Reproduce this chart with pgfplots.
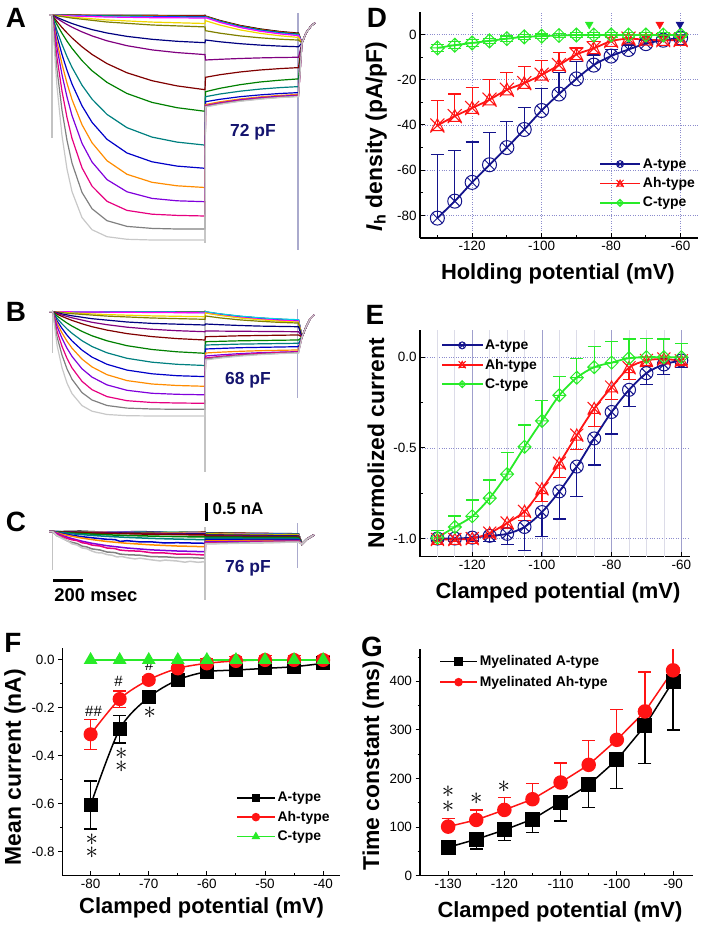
\documentclass[border=0pt]{standalone}
\usepackage{fontspec}
\setmainfont{Liberation Sans}
\usepackage{pgfplots}
\pgfplotsset{compat=1.18}
\usetikzlibrary{plotmarks}

\definecolor{navyc}{RGB}{20,20,140}
\definecolor{redc}{RGB}{255,20,20}
\definecolor{greenc}{RGB}{40,235,40}
\definecolor{gridc}{RGB}{140,140,205}
\definecolor{gridx}{RGB}{160,160,205}
\definecolor{lgridc}{RGB}{220,220,232}
\definecolor{txtnavy}{RGB}{20,20,110}
\definecolor{vline}{RGB}{170,170,205}
\definecolor{capc}{RGB}{195,195,195}
% trace colours
\definecolor{tblack}{RGB}{0,0,0}
\definecolor{tred}{RGB}{255,0,0}
\definecolor{tgreen}{RGB}{0,210,0}
\definecolor{tblue}{RGB}{0,0,255}
\definecolor{tcyan}{RGB}{0,210,230}
\definecolor{tmag}{RGB}{255,0,255}
\definecolor{tyel}{RGB}{240,215,0}
\definecolor{tolive}{RGB}{128,128,0}
\definecolor{tnavy}{RGB}{0,0,128}
\definecolor{tpurp}{RGB}{128,0,128}
\definecolor{twine}{RGB}{128,0,0}
\definecolor{tdgreen}{RGB}{0,128,0}
\definecolor{tdcyan}{RGB}{0,128,128}
\definecolor{troyal}{RGB}{0,0,200}
\definecolor{torange}{RGB}{255,140,0}
\definecolor{tviolet}{RGB}{128,0,220}
\definecolor{tpink}{RGB}{230,0,128}
\definecolor{tgray}{RGB}{128,128,128}
\definecolor{tlgray}{RGB}{200,200,200}

\pgfdeclareplotmark{xtri}{%
  \pgfpathmoveto{\pgfqpoint{-\pgfplotmarksize}{-\pgfplotmarksize}}%
  \pgfpathlineto{\pgfqpoint{\pgfplotmarksize}{\pgfplotmarksize}}%
  \pgfpathmoveto{\pgfqpoint{-\pgfplotmarksize}{\pgfplotmarksize}}%
  \pgfpathlineto{\pgfqpoint{\pgfplotmarksize}{-\pgfplotmarksize}}%
  \pgfpathmoveto{\pgfqpoint{0pt}{0.95\pgfplotmarksize}}%
  \pgfpathlineto{\pgfqpoint{0.9\pgfplotmarksize}{-0.75\pgfplotmarksize}}%
  \pgfpathlineto{\pgfqpoint{-0.9\pgfplotmarksize}{-0.75\pgfplotmarksize}}%
  \pgfpathclose
  \pgfusepathqstroke
}
\pgfdeclareplotmark{dplus}{%
  \pgfpathmoveto{\pgfqpoint{0pt}{\pgfplotmarksize}}%
  \pgfpathlineto{\pgfqpoint{\pgfplotmarksize}{0pt}}%
  \pgfpathlineto{\pgfqpoint{0pt}{-\pgfplotmarksize}}%
  \pgfpathlineto{\pgfqpoint{-\pgfplotmarksize}{0pt}}%
  \pgfpathclose
  \pgfpathmoveto{\pgfqpoint{0pt}{\pgfplotmarksize}}%
  \pgfpathlineto{\pgfqpoint{0pt}{-\pgfplotmarksize}}%
  \pgfpathmoveto{\pgfqpoint{-\pgfplotmarksize}{0pt}}%
  \pgfpathlineto{\pgfqpoint{\pgfplotmarksize}{0pt}}%
  \pgfusepathqstroke
}

\pgfplotsset{
  orig/.style={
    scale only axis, anchor=south west,
    axis x line*=bottom, axis y line*=left,
    axis line style={line width=1.2bp, black},
    tick style={black, line width=1bp},
    major tick length=4.5bp, minor tick length=2.5bp,
    tick label style={font=\fontsize{13.5}{14}\selectfont},
    /pgf/number format/assume math mode=true,
    xlabel style={font=\bfseries\fontsize{22}{24}\selectfont, anchor=center},
    ylabel style={font=\bfseries\fontsize{23}{25}\selectfont, anchor=center},
    legend cell align=left,
    legend style={draw=none, fill=none, font=\bfseries\fontsize{14}{15}\selectfont,
      row sep=4bp, nodes={inner sep=2bp}},
    legend image code/.code={\draw[mark repeat=2,mark phase=2] plot coordinates {(0bp,0bp) (20bp,0bp) (40bp,0bp)};},
    legend image post style={mark size=3.5bp},
    error bars/error bar style={line width=1.2bp},
    error bars/error mark options={rotate=90, mark size=6.5bp, line width=1.2bp},
  },
  tr/.style={no marks, line width=1.2bp},
  trc/.style={no marks, line width=1.5bp},
}

\begin{document}
\begin{tikzpicture}
%================ traces A, B, C (pixel coordinates) =================
\begin{axis}[at={(0bp,0bp)}, anchor=south west, scale only axis,
  width=703bp, height=927bp, xmin=0, xmax=703, ymin=0, ymax=927,
  y dir=reverse, hide axis, clip=false]
% ---- A
\addplot[capc, line width=1.5bp] coordinates {(52,14)(52,138)};
\addplot[capc, line width=1.5bp] coordinates {(205,14)(205,243)};
\addplot[vline, line width=1.5bp] coordinates {(298,13)(298,250)};
\addplot[tr,tblack] coordinates {(49,15)(52,15)(107,15.2)(205,15.5)(205.5,16)(220,20.5)(240,25.4)(260,28.9)(280,31.5)(297,33)(298.5,33)(302,43)(306,33)(311,26)(315,23)};
\addplot[tr,tred] coordinates {(49,15)(52,15)(72,15.2)(107,15.5)(152,15.8)(205,16)(205.5,16.3)(220,20.9)(240,25.8)(260,29.4)(280,31.9)(297,33.5)(298.5,33.5)(302,43)(306,33)(311,26)(315,23)};
\addplot[tr,tgreen] coordinates {(49,15)(52,15)(72,15.4)(107,15.8)(152,16.2)(205,16.5)(205.5,16.6)(220,21.2)(240,26.2)(260,29.8)(280,32.4)(297,34)(298.5,34)(302,43)(306,33)(311,26)(315,23)};
\addplot[tr,tblue] coordinates {(49,15)(52,15)(72,15.6)(107,16.2)(152,16.7)(205,17)(205.5,17)(220,21.7)(240,26.7)(260,30.3)(280,32.9)(297,34.5)(298.5,34.5)(302,43)(306,33)(311,26)(315,23)};
\addplot[tr,tcyan] coordinates {(49,15)(52,15)(72,15.8)(107,16.6)(152,17.1)(205,17.5)(205.5,17.3)(220,22.0)(240,27.1)(260,30.8)(280,33.4)(297,35)(298.5,35)(302,43)(306,33)(311,26)(315,23)};
\addplot[tr,tmag] coordinates {(49,15)(52,15)(72,16)(107,17)(152,17.7)(205,18)(205.5,17.6)(220,22.4)(240,27.5)(260,31.2)(280,33.9)(297,35.5)(298.5,35.5)(302,43)(306,33)(311,26)(315,23)};
\addplot[tr,tyel] coordinates {(49,15)(52,15)(72,17.2)(107,20.0)(152,22.1)(205,23.5)(205.5,20.7)(220,25.1)(240,29.9)(260,33.3)(280,35.8)(297,37.3)(298.5,37.3)(302,43)(306,33)(311,26)(315,23)};
\addplot[tr,tolive] coordinates {(49,15)(52,15)(72,18.1)(107,22.0)(152,25.0)(205,26.9)(205.5,30.7)(220,33.2)(240,35.9)(260,37.8)(280,39.2)(297,40)(298.5,40)(302,43)(306,33)(311,26)(315,23)};
\addplot[tr,tnavy] coordinates {(49,15)(52,15)(57,17.4)(62,19.6)(67,21.6)(72,23.5)(82,26.8)(92,29.6)(107,33.0)(127,36.4)(152,39.3)(177,41.3)(205,42.7)(205.5,40)(220,41.8)(240,43.7)(260,45.1)(280,46.1)(297,46.7)(298.5,46.7)(302,43)(306,33)(311,26)(315,23)};
\addplot[tr,tpurp] coordinates {(49,15)(52,15)(57,18.4)(62,21.6)(67,24.5)(72,27.2)(82,31.9)(92,35.9)(107,40.8)(127,45.7)(152,49.9)(177,52.6)(205,54.6)(205.5,60)(220,59.3)(240,58.5)(260,57.9)(280,57.5)(297,57.3)(298.5,57.3)(302,43)(306,33)(311,26)(315,23)};
\addplot[tr,twine] coordinates {(49,15)(52,15)(57,21.5)(62,27.5)(67,32.9)(72,37.9)(82,46.8)(92,54.4)(107,63.6)(127,72.8)(152,80.7)(177,85.9)(205,89.7)(205.5,77.3)(220,74.7)(240,72.0)(260,70.0)(280,68.6)(297,67.7)(298.5,67.7)(302,43)(306,33)(311,26)(315,23)};
\addplot[tr,tdgreen] coordinates {(49,15)(52,15)(57,24.6)(62,33.3)(67,41.2)(72,48.3)(82,60.6)(92,70.7)(107,82.4)(127,93.5)(152,102.4)(177,107.7)(205,111.3)(205.5,91.7)(220,88.3)(240,84.7)(260,82.0)(280,80.2)(297,79)(298.5,79)(302,43)(306,33)(311,26)(315,23)};
\addplot[tr,tdcyan] coordinates {(49,15)(52,15)(57,30.7)(62,44.4)(67,56.6)(72,67.3)(82,85.2)(92,99.1)(107,114.4)(127,127.7)(152,137.1)(177,142.1)(205,145.1)(205.5,96.7)(220,94.0)(240,91.2)(260,89.1)(280,87.6)(297,86.7)(298.5,86.7)(302,43)(306,33)(311,26)(315,23)};
\addplot[tr,troyal] coordinates {(49,15)(52,15)(57,36.2)(62,54.5)(67,70.3)(72,84.0)(82,105.8)(92,122.3)(107,139.3)(127,153.0)(152,161.8)(177,166.1)(205,168.3)(205.5,101.7)(220,99.3)(240,96.7)(260,94.9)(280,93.5)(297,92.7)(298.5,92.7)(302,43)(306,33)(311,26)(315,23)};
\addplot[tr,torange] coordinates {(49,15)(52,15)(57,41.7)(62,64.1)(67,83.2)(72,99.5)(82,124.7)(92,142.7)(107,160.7)(127,174.3)(152,182.3)(177,185.8)(205,187.5)(205.5,104.5)(220,101.8)(240,99.0)(260,96.9)(280,95.4)(297,94.5)(298.5,94.5)(302,43)(306,33)(311,26)(315,23)};
\addplot[tr,tviolet] coordinates {(49,15)(52,15)(57,47.8)(62,74.7)(67,97.0)(72,115.6)(82,143.3)(92,162.0)(107,179.6)(127,191.8)(152,198.4)(177,200.8)(205,201.7)(205.5,105.5)(220,102.8)(240,99.8)(260,97.7)(280,96.2)(297,95.3)(298.5,95.3)(302,43)(306,33)(311,26)(315,23)};
\addplot[tr,tpink] coordinates {(49,15)(52,15)(57,57.6)(62,91.2)(67,117.5)(72,138.4)(82,167.8)(92,186.1)(107,201.3)(127,210.4)(152,214.2)(177,215.4)(205,216)(205.5,106)(220,103.3)(240,100.5)(260,98.4)(280,96.9)(297,96)(298.5,96)(302,43)(306,33)(311,26)(315,23)};
\addplot[tr,tgray] coordinates {(49,15)(52,15)(57,69.6)(62,110.2)(67,140.4)(72,163.1)(82,192.4)(92,208.7)(107,220.7)(127,226.4)(152,228.4)(177,229)(205,229)(205.5,106.5)(220,103.8)(240,100.9)(260,98.8)(280,97.2)(297,96.3)(298.5,96.3)(302,43)(306,33)(311,26)(315,23)};
\addplot[tr,tlgray] coordinates {(49,15)(52,15)(57,86.8)(62,135.8)(67,169.1)(72,191.6)(82,217.6)(92,229.7)(107,236.7)(127,239.3)(152,240)(177,240)(205,240)(205.5,107)(220,104.3)(240,101.3)(260,99.2)(280,97.6)(297,96.7)(298.5,96.7)(302,43)(306,33)(311,26)(315,23)};
% ---- B
\addplot[capc, line width=1.5bp] coordinates {(52.7,310)(52.7,353)};
\addplot[capc, line width=1.5bp] coordinates {(205,310)(205,471.7)};
\addplot[vline, line width=1.5bp] coordinates {(297.7,309)(297.7,398)};
\addplot[tr,tblack] coordinates {(49,311.7)(52.7,311.7)(205,311.9)(205.5,311.9)(220,314.1)(240,316.4)(260,318.1)(280,319.3)(297,320)(298.5,320)(302,337)(306,327)(310,319)(314,315)};
\addplot[tr,tred] coordinates {(49,311.7)(52.7,311.7)(205,312.1)(205.5,312.1)(220,314.3)(240,316.6)(260,318.3)(280,319.5)(297,320.2)(298.5,320.2)(302,337)(306,327)(310,319)(314,315)};
\addplot[tr,tgreen] coordinates {(49,311.7)(52.7,311.7)(205,312.3)(205.5,312.3)(220,314.5)(240,316.8)(260,318.5)(280,319.7)(297,320.4)(298.5,320.4)(302,337)(306,327)(310,319)(314,315)};
\addplot[tr,tblue] coordinates {(49,311.7)(52.7,311.7)(205,312.5)(205.5,312.5)(220,314.7)(240,317.0)(260,318.7)(280,319.9)(297,320.6)(298.5,320.6)(302,337)(306,327)(310,319)(314,315)};
\addplot[tr,tcyan] coordinates {(49,311.7)(52.7,311.7)(205,312.2)(205.5,311.7)(220,313.8)(240,316.1)(260,317.8)(280,319.0)(297,319.7)(298.5,319.7)(302,337)(306,327)(310,319)(314,315)};
\addplot[tr,tmag] coordinates {(49,311.7)(52.7,311.7)(205,312.9)(205.5,312.9)(220,315.1)(240,317.4)(260,319.1)(280,320.3)(297,321)(298.5,321)(302,337)(306,327)(310,319)(314,315)};
\addplot[tr,tyel] coordinates {(49,311.7)(52.7,311.7)(72,313.0)(107,314.6)(152,315.9)(205,316.7)(205.5,313)(220,315.4)(240,318.0)(260,319.8)(280,321.2)(297,322)(298.5,322)(302,337)(306,327)(310,319)(314,315)};
\addplot[tr,tolive] coordinates {(49,311.7)(52.7,311.7)(72,313.7)(107,316.1)(152,318.0)(205,319.3)(205.5,316)(220,317.9)(240,319.9)(260,321.3)(280,322.4)(297,323)(298.5,323)(302,337)(306,327)(310,319)(314,315)};
\addplot[tr,tnavy] coordinates {(49,311.7)(52.7,311.7)(62,313.9)(72,315.8)(92,318.7)(127,322.0)(152,323.4)(205,325.0)(205.5,324)(220,324.7)(240,325.5)(260,326.1)(297,326.7)(298.5,326.7)(302,337)(306,327)(310,319)(314,315)};
\addplot[tr,tpurp] coordinates {(49,311.7)(52.7,311.7)(62,315.0)(72,317.8)(92,322.3)(107,324.7)(127,327.2)(152,329.3)(177,330.7)(205,331.7)(205.5,331)(297,331.7)(298.5,331.7)(302,337)(306,327)(310,319)(314,315)};
\addplot[tr,twine] coordinates {(49,311.7)(52.7,311.7)(57,314.2)(62,316.4)(67,318.5)(72,320.4)(82,323.8)(92,326.7)(107,330.1)(127,333.6)(152,336.6)(177,338.6)(205,340.0)(205.5,336.7)(240,335.8)(297,335)(298.5,335)(302,337)(306,327)(310,319)(314,315)};
\addplot[tr,tdgreen] coordinates {(49,311.7)(52.7,311.7)(57,315.9)(62,319.6)(67,323.0)(72,326.1)(82,331.4)(92,335.8)(107,340.8)(127,345.7)(152,349.5)(177,351.8)(205,353.3)(205.5,341.7)(240,340.8)(297,340)(298.5,340)(302,337)(306,327)(310,319)(314,315)};
\addplot[tr,tdcyan] coordinates {(49,311.7)(52.7,311.7)(57,318.2)(62,323.9)(67,328.9)(72,333.3)(82,340.7)(92,346.5)(107,352.8)(127,358.3)(152,362.2)(177,364.3)(205,365.5)(205.5,345)(240,344.1)(297,343.3)(298.5,343.3)(302,337)(306,327)(310,319)(314,315)};
\addplot[tr,troyal] coordinates {(49,311.7)(52.7,311.7)(57,320.7)(62,328.4)(67,335.1)(72,340.9)(82,350.1)(92,357.1)(107,364.3)(127,370.1)(152,373.8)(177,375.7)(205,376.6)(205.5,349)(240,347.7)(297,346.7)(298.5,346.7)(302,337)(306,327)(310,319)(314,315)};
\addplot[tr,torange] coordinates {(49,311.7)(52.7,311.7)(57,323.3)(62,332.9)(67,341.2)(72,348.2)(82,359.1)(92,366.9)(107,374.7)(127,380.6)(152,384.0)(177,385.5)(205,386.3)(205.5,353)(220,352.2)(240,351.3)(260,350.7)(280,350.3)(297,350)(298.5,350)(302,337)(306,327)(310,319)(314,315)};
\addplot[tr,tviolet] coordinates {(49,311.7)(52.7,311.7)(57,326.3)(62,338.3)(67,348.2)(72,356.4)(82,368.8)(92,377.1)(107,384.9)(127,390.3)(152,393.3)(177,394.3)(205,394.8)(205.5,356)(220,354.9)(240,353.6)(260,352.7)(280,352.1)(297,351.7)(298.5,351.7)(302,337)(306,327)(310,319)(314,315)};
\addplot[tr,tpink] coordinates {(49,311.7)(52.7,311.7)(57,331.1)(62,346.4)(67,358.4)(72,367.9)(82,381.3)(92,389.7)(107,396.6)(127,400.7)(152,402.5)(177,403.0)(205,403.3)(205.5,358)(220,356.4)(240,354.7)(260,353.4)(280,352.5)(297,352)(298.5,352)(302,337)(306,327)(310,319)(314,315)};
\addplot[tr,tgray] coordinates {(49,311.7)(52.7,311.7)(57,336.6)(62,355.1)(67,368.9)(72,379.2)(82,392.6)(92,400.0)(107,405.5)(127,408.1)(152,409.0)(177,409.3)(205,409.3)(205.5,359)(220,357.3)(240,355.5)(260,354.2)(280,353.3)(297,352.7)(298.5,352.7)(302,337)(306,327)(310,319)(314,315)};
\addplot[tr,tlgray] coordinates {(49,311.7)(52.7,311.7)(57,345.0)(62,367.7)(67,383.1)(72,393.6)(82,405.6)(92,411.2)(107,414.5)(127,415.7)(152,416)(205,416)(205.5,360)(220,358.1)(240,356.1)(260,354.7)(280,353.6)(297,353)(298.5,353)(302,337)(306,327)(310,319)(314,315)};
% ---- C
\addplot[capc, line width=1.5bp] coordinates {(52.7,530)(52.7,570)};
\addplot[capc, line width=1.5bp] coordinates {(205,527)(205,600)};
\addplot[vline, line width=1.5bp] coordinates {(297.7,523)(297.7,568)};
\addplot[trc,tblack] coordinates {(49,531.7)(52.7,531.7)(80,531.2)(110,532.3)(140,531.5)(170,532.6)(205,532.2)(205.5,532.8)(250,533.3)(297,533.8)(298.5,533.8)(302,544)(307,539)(314,535)};
\addplot[trc,tred] coordinates {(49,531.7)(52.7,531.7)(90,532.6)(130,532.0)(170,532.9)(205,532.4)(205.5,533)(250,533.5)(297,534)(298.5,534)(302,544)(307,539)(314,535)};
\addplot[trc,tgreen] coordinates {(49,531.7)(52.7,531.7)(205,532.6)(205.5,533.2)(250,533.7)(297,534.2)(298.5,534.2)(302,544)(307,539)(314,535)};
\addplot[trc,tblue] coordinates {(49,531.7)(52.7,531.7)(205,532.8)(205.5,533.4)(250,533.9)(297,534.4)(298.5,534.4)(302,544)(307,539)(314,535)};
\addplot[trc,tcyan] coordinates {(49,531.7)(52.7,531.7)(205,533)(205.5,533.6)(250,534.1)(297,534.6)(298.5,534.6)(302,544)(307,539)(314,535)};
\addplot[trc,tmag] coordinates {(49,531.7)(52.7,531.7)(205,533.2)(205.5,533.8)(250,534.3)(297,534.8)(298.5,534.8)(302,544)(307,539)(314,535)};
\addplot[trc,tyel] coordinates {(49,531.7)(52.7,531.7)(127,532.8)(205,533.4)(205.5,533.8)(250,534.5)(297,535)(298.5,535)(302,544)(307,539)(314,535)};
\addplot[trc,tolive] coordinates {(49,531.7)(52.7,531.7)(127,533.0)(205,533.7)(205.5,534.2)(250,535)(297,535.5)(298.5,535.5)(302,544)(307,539)(314,535)};
\addplot[trc,tnavy] coordinates {(49,531.7)(52.7,531.7)(92,532.6)(152,533.4)(205,534)(205.5,535)(250,535.6)(297,536)(298.5,536)(302,544)(307,539)(314,535)};
\addplot[trc,tpurp] coordinates {(49,531.7)(52.7,531.7)(92,532.8)(152,533.8)(205,534.5)(205.5,535.5)(250,536.1)(297,536.5)(298.5,536.5)(302,544)(307,539)(314,535)};
\addplot[trc,twine] coordinates {(49,531.7)(52.7,531.7)(92,533)(152,534.2)(205,535)(205.5,536)(250,536.6)(297,537)(298.5,537)(302,544)(307,539)(314,535)};
\addplot[trc,tdgreen] coordinates {(49,531.7)(52.7,531.7)(62,532.4)(72,533.1)(82,533.6)(92,534.1)(107,534.8)(127,535.5)(152,536.1)(177,536.6)(205,537.0)(205.5,537)(250,537.3)(297,537.5)(298.5,537.5)(302,544)(307,539)(314,535)};
\addplot[trc,tdcyan] coordinates {(49,531.7)(52.7,531.7)(62,532.8)(72,533.8)(82,534.6)(92,535.4)(107,536.4)(127,537.4)(152,538.4)(177,539.1)(205,539.7)(205.5,538)(250,538.3)(297,538.5)(298.5,538.5)(302,544)(307,539)(314,535)};
\addplot[trc,troyal] coordinates {(49,531.7)(52.7,531.7)(62,533.6)(72,535.3)(82,536.7)(92,537.8)(107,539.3)(115,539.6)(120,541.4)(127,540.7)(140,541.9)(152,541.9)(165,543.0)(177,542.7)(205,543.3)(205.5,539.5)(250,539.5)(297,539.5)(298.5,539.5)(302,544)(307,539)(314,535)};
\addplot[trc,torange] coordinates {(49,531.7)(52.7,531.7)(62,534.2)(72,536.3)(82,538.1)(92,539.6)(107,541.5)(127,543.3)(152,544.9)(177,546.0)(205,546.7)(205.5,541)(250,540.7)(297,540.5)(298.5,540.5)(302,544)(307,539)(314,535)};
\addplot[trc,tviolet] coordinates {(49,531.7)(52.7,531.7)(62,535.5)(72,538.6)(82,541.2)(92,543.3)(107,545.7)(127,548.0)(152,549.9)(177,551.0)(205,551.7)(205.5,542)(250,541.5)(297,541)(298.5,541)(302,544)(307,539)(314,535)};
\addplot[trc,tpink] coordinates {(49,531.7)(52.7,531.7)(57,534.5)(62,536.1)(67,538.4)(72,539.8)(77,540.6)(82,542.7)(87,543.5)(92,545.1)(100,546.0)(107,548.0)(115,548.6)(120,550.1)(127,550.7)(140,551.2)(152,552.8)(165,553.0)(177,554.1)(190,554.2)(205,555.0)(205.5,543)(250,542.2)(297,541.5)(298.5,541.5)(302,544)(307,539)(314,535)};
\addplot[trc,tgray] coordinates {(49,531.7)(52.7,531.7)(57,535.8)(62,537.7)(67,540.7)(72,542.4)(77,543.5)(82,546.1)(87,547.0)(92,548.9)(100,550.0)(107,552.0)(115,552.6)(120,554.1)(127,554.7)(140,555.2)(152,556.7)(165,556.8)(177,557.7)(190,557.6)(205,558.3)(205.5,543.5)(250,542.7)(297,542)(298.5,542)(302,544)(307,539)(314,535)};
\addplot[trc,tlgray] coordinates {(49,531.7)(52.7,531.7)(57,535.5)(62,538.5)(67,540.5)(72,543.8)(77,545.0)(82,547.9)(87,548.8)(92,551.1)(97,552.7)(102,552.9)(107,554.6)(112,555.2)(117,556.9)(122,556.5)(127,557.7)(135,558.9)(140,558.2)(152,559.9)(160,560.9)(165,560.1)(177,561.0)(185,562.2)(190,561.3)(198,562.3)(205,561.7)(205.5,544)(250,543)(297,542)(298.5,542)(302,544)(307,539)(314,535)};
% scale bars
\addplot[black, line width=3bp] coordinates {(206.5,503)(206.5,521)};
\addplot[black, line width=3bp] coordinates {(53,580)(83,580)};
% texts
\node[font=\bfseries\fontsize{17.5}{18}\selectfont, text=txtnavy] at (253,132) {72 pF};
\node[font=\bfseries\fontsize{17.5}{18}\selectfont, text=txtnavy] at (248,380) {68 pF};
\node[font=\bfseries\fontsize{17.5}{18}\selectfont, text=txtnavy] at (248,568) {76 pF};
\node[font=\bfseries\fontsize{17}{18}\selectfont] at (238,509) {0.5 nA};
\node[font=\bfseries\fontsize{18.5}{19}\selectfont] at (96,595) {200 msec};
\node[font=\bfseries\fontsize{28}{28}\selectfont] at (16,18) {A};
\node[font=\bfseries\fontsize{28}{28}\selectfont] at (16,312) {B};
\node[font=\bfseries\fontsize{28}{28}\selectfont] at (16,522) {C};
\node[font=\bfseries\fontsize{28}{28}\selectfont] at (377,18) {D};
\node[font=\bfseries\fontsize{28}{28}\selectfont] at (375,315) {E};
\node[font=\bfseries\fontsize{28}{28}\selectfont] at (13,643) {F};
\node[font=\bfseries\fontsize{28}{28}\selectfont] at (372,647) {G};
\end{axis}

%================ D =================
\begin{axis}[orig, at={(420bp,689bp)}, width=278bp, height=226bp,
  xmin=-135, xmax=-55, ymin=-90, ymax=10,
  xtick={-120,-100,-80,-60}, minor xtick={-130,-110,-90,-70},
  ytick={0,-20,-40,-60,-80}, minor ytick={-10,-30,-50,-70},
  xtick align=inside, ytick align=inside,
  xmajorgrids, ymajorgrids,
  major grid style={dotted, gridc, line width=0.7bp},
  xlabel={Holding potential (mV)},
  ylabel={\textit{I}\textsubscript{h} density (pA/pF)},
  xlabel style={at={(axis description cs:0.496,-0.159)}},
  ylabel style={at={(axis description cs:-0.158,0.449)}},
  legend style={at={(0.633,0.37)}, anchor=north west},
]
\addplot[navyc, line width=1.8bp, smooth, mark=otimes, mark size=7bp, mark options={line width=1bp},
  error bars/.cd, y dir=plus, y explicit] coordinates {
  (-130,-81.2) +- (0,28) (-125,-73.7) +- (0,22.5) (-120,-65.4) +- (0,17.9) (-115,-57.6) +- (0,14.2)
  (-110,-50) +- (0,11.7) (-105,-42) +- (0,9.8) (-100,-33.6) +- (0,9.9) (-95,-26.3) +- (0,9.5)
  (-90,-19.6) +- (0,7.6) (-85,-13.5) +- (0,4.5) (-80,-9.5) +- (0,3) (-75,-6.6) +- (0,2)
  (-70,-4) +- (0,1.5) (-65,-2.5) +- (0,1.5) (-60,-1.5) +- (0,1.5)};
\addlegendentry{A-type}
\addplot[redc, line width=1.8bp, smooth, mark=xtri, mark size=7bp, mark options={line width=1bp},
  error bars/.cd, y dir=plus, y explicit] coordinates {
  (-130,-40.2) +- (0,11) (-125,-36.1) +- (0,9.8) (-120,-32.5) +- (0,9.2) (-115,-28.8) +- (0,8.8)
  (-110,-24.4) +- (0,7.6) (-105,-21.5) +- (0,7.3) (-100,-17.8) +- (0,6.5) (-95,-13.5) +- (0,5.5)
  (-90,-8.8) +- (0,2.9) (-85,-6.1) +- (0,3) (-80,-2.9) +- (0,3) (-75,-1.8) +- (0,2)
  (-70,-2.3) +- (0,2) (-65,-2.5) +- (0,2) (-60,-2.4) +- (0,2)};
\addlegendentry{Ah-type}
\addplot[greenc, line width=1.8bp, smooth, mark=dplus, mark size=7bp, mark options={line width=1bp},
  error bars/.cd, y dir=both, y explicit] coordinates {
  (-130,-5.9) +- (0,1.5) (-125,-4.7) +- (0,1.5) (-120,-3.7) +- (0,1.5) (-115,-2.8) +- (0,1.2)
  (-110,-1.8) +- (0,1.2) (-105,-1.0) +- (0,1) (-100,-0.7) +- (0,1) (-95,-0.4) +- (0,1)
  (-90,-0.2) +- (0,1) (-85,-0.2) +- (0,1) (-80,-0.2) +- (0,1) (-75,-0.2) +- (0,1)
  (-70,-0.2) +- (0,1) (-65,-0.2) +- (0,1) (-60,-0.2) +- (0,1)};
\addlegendentry{C-type}
\addplot[forget plot, only marks, greenc, mark=triangle*, mark size=4.5bp, mark options={rotate=180}] coordinates {(-86.3,4.5)};
\addplot[forget plot, only marks, redc, mark=triangle*, mark size=4.5bp, mark options={rotate=180}] coordinates {(-66,4.5)};
\addplot[forget plot, only marks, navyc, mark=triangle*, mark size=4.5bp, mark options={rotate=180}] coordinates {(-60.2,4.5)};
\end{axis}

%================ E =================
\begin{axis}[orig, at={(420bp,370.3bp)}, width=270bp, height=226.7bp,
  xmin=-135, xmax=-57.5, ymin=-1.1, ymax=0.15,
  xtick={-120,-100,-80,-60}, minor xtick={-130,-110,-90,-70},
  ytick={0,-0.5,-1}, minor ytick={-0.25,-0.75},
  yticklabel style={/pgf/number format/.cd, fixed, fixed zerofill, precision=1},
  xtick align=inside, ytick align=inside,
  xmajorgrids, ymajorgrids,
  major x grid style={solid, gridx, line width=0.8bp},
  major y grid style={dotted, gridc, line width=0.7bp},
  extra x ticks={-130,-125,-115,-110,-105,-95,-90,-85,-75,-70,-65},
  extra x tick labels={},
  extra x tick style={major x grid style={solid, lgridc, line width=0.7bp}, major tick length=0pt},
  xlabel={Clamped potential (mV)},
  ylabel={Normolized current},
  xlabel style={at={(axis description cs:0.511,-0.160)}},
  ylabel style={at={(axis description cs:-0.163,0.5)}},
  legend style={at={(0.067,0.975)}, anchor=north west},
]
\addplot[navyc, line width=1.8bp, smooth, mark=otimes, mark size=6.5bp, mark options={line width=1bp},
  error bars/.cd, y dir=minus, y explicit] coordinates {
  (-130,-1.0) +- (0,0.01) (-125,-1.0) +- (0,0.015) (-120,-0.995) +- (0,0.02) (-115,-0.985) +- (0,0.03)
  (-110,-0.974) +- (0,0.06) (-105,-0.936) +- (0,0.13) (-100,-0.854) +- (0,0.133) (-95,-0.74) +- (0,0.152)
  (-90,-0.603) +- (0,0.167) (-85,-0.448) +- (0,0.146) (-80,-0.302) +- (0,0.122) (-75,-0.18) +- (0,0.09)
  (-70,-0.088) +- (0,0.064) (-65,-0.04) +- (0,0.055) (-60,-0.018) +- (0,0.037)};
\addlegendentry{A-type}
\addplot[redc, line width=1.8bp, smooth, mark=xtri, mark size=6.5bp, mark options={line width=1bp},
  error bars/.cd, y dir=minus, y explicit] coordinates {
  (-130,-1.005) +- (0,0.01) (-125,-1.005) +- (0,0.01) (-120,-1.0) +- (0,0.01) (-115,-0.97) +- (0,0.02)
  (-110,-0.914) +- (0,0.03) (-105,-0.85) +- (0,0.05) (-100,-0.726) +- (0,0.07) (-95,-0.585) +- (0,0.08)
  (-90,-0.43) +- (0,0.08) (-85,-0.283) +- (0,0.1) (-80,-0.165) +- (0,0.07) (-75,-0.058) +- (0,0.066)
  (-70,-0.018) +- (0,0.03) (-65,-0.01) +- (0,0.02) (-60,-0.02) +- (0,0.02)};
\addlegendentry{Ah-type}
\addplot[greenc, line width=1.8bp, smooth, mark=dplus, mark size=6.5bp, mark options={line width=1bp},
  error bars/.cd, y dir=plus, y explicit] coordinates {
  (-130,-0.996) +- (0,0.04) (-125,-0.936) +- (0,0.06) (-120,-0.877) +- (0,0.09) (-115,-0.777) +- (0,0.1)
  (-110,-0.645) +- (0,0.12) (-105,-0.494) +- (0,0.12) (-100,-0.351) +- (0,0.113) (-95,-0.21) +- (0,0.104)
  (-90,-0.113) +- (0,0.104) (-85,-0.055) +- (0,0.113) (-80,-0.03) +- (0,0.115) (-75,-0.005) +- (0,0.105)
  (-70,0) +- (0,0.104) (-65,0) +- (0,0.1) (-60,0) +- (0,0.077)};
\addlegendentry{C-type}
\end{axis}

%================ F =================
\begin{axis}[orig, at={(62.7bp,51.3bp)}, width=277.3bp, height=227.7bp,
  xmin=-84.8, xmax=-37.1, ymin=-0.9, ymax=0.05,
  xtick={-80,-70,-60,-50,-40}, minor xtick={-75,-65,-55,-45},
  ytick={0,-0.2,-0.4,-0.6,-0.8}, minor ytick={-0.1,-0.3,-0.5,-0.7},
  yticklabel style={/pgf/number format/.cd, fixed, fixed zerofill, precision=1},
  xtick align=inside, ytick align=outside,
  xlabel={Clamped potential (mV)}, ylabel={Mean current (nA)},
  xlabel style={at={(axis description cs:0.501,-0.143)}},
  ylabel style={at={(axis description cs:-0.172,0.477)}},
  legend style={at={(0.614,0.385)}, anchor=north west},
  legend image code/.code={\draw[mark repeat=2,mark phase=2] plot coordinates {(0bp,0bp) (19bp,0bp) (38bp,0bp)};},
]
\addplot[black, line width=1.5bp, smooth, mark=square*, mark size=6.3bp,
  error bars/.cd, y dir=both, y explicit] coordinates {
  (-80,-0.605) +- (0,0.1) (-75,-0.289) +- (0,0.057) (-70,-0.156) +- (0,0.02) (-65,-0.083) +- (0,0.012)
  (-60,-0.049) +- (0,0.008) (-55,-0.042) +- (0,0.006) (-50,-0.035) +- (0,0.006) (-45,-0.028) +- (0,0.005)
  (-40,-0.014) +- (0,0.005)};
\addlegendentry{A-type}
\addplot[redc, line width=1.5bp, smooth, mark=*, mark size=6.3bp,
  error bars/.cd, y dir=both, y explicit] coordinates {
  (-80,-0.31) +- (0,0.062) (-75,-0.163) +- (0,0.034) (-70,-0.083) +- (0,0.015) (-65,-0.035) +- (0,0.02)
  (-60,-0.014) +- (0,0.02) (-55,-0.004) +- (0,0.02) (-50,0) +- (0,0.02) (-45,0) +- (0,0.02)
  (-40,0) +- (0,0.02)};
\addlegendentry{Ah-type}
\addplot[greenc, line width=1.5bp, mark=triangle*, mark size=6.5bp] coordinates {
  (-80,0) (-75,0) (-70,0) (-65,0) (-60,0) (-55,0) (-50,0) (-45,0) (-40,0)};
\addlegendentry{C-type}
\node[font=\fontsize{15}{15}\selectfont] at (axis cs:-79.5,-0.213) {\#\#};
\node[font=\fontsize{15}{15}\selectfont] at (axis cs:-75.2,-0.09) {\#};
\node[font=\fontsize{15}{15}\selectfont] at (axis cs:-69.9,-0.021) {\#};
\node[font=\fontsize{23}{13}\selectfont, align=center, inner sep=0pt] at (axis cs:-79.8,-0.777) {$\ast$\\$\ast$};
\node[font=\fontsize{23}{13}\selectfont, align=center, inner sep=0pt] at (axis cs:-74.7,-0.4165) {$\ast$\\$\ast$};
\node[font=\fontsize{23}{23}\selectfont, inner sep=0pt] at (axis cs:-69.8,-0.222) {$\ast$};
\end{axis}

%================ G =================
\begin{axis}[orig, at={(420bp,51.3bp)}, width=273.3bp, height=226.4bp,
  xmin=-135, xmax=-86.4, ymin=0, ymax=466,
  xtick={-130,-120,-110,-100,-90}, minor xtick={-125,-115,-105,-95},
  ytick={0,100,200,300,400}, minor ytick={50,150,250,350,450},
  xtick align=inside, ytick align=outside,
  xlabel={Clamped potential (mV)}, ylabel={Time constant (ms)},
  xlabel style={at={(axis description cs:0.512,-0.159)}},
  ylabel style={at={(axis description cs:-0.171,0.486)}},
  legend style={at={(0.059,0.99)}, anchor=north west, row sep=5bp},
  legend image code/.code={\draw[mark repeat=2,mark phase=2] plot coordinates {(0bp,0bp) (18.5bp,0bp) (37bp,0bp)};},
]
\addplot[black, line width=1.5bp, mark=square*, mark size=6.7bp,
  error bars/.cd, y dir=minus, y explicit] coordinates {
  (-130,58.4) +- (0,5) (-125,74.9) +- (0,20) (-120,94.2) +- (0,22) (-115,116.2) +- (0,27.5)
  (-110,151.2) +- (0,38.5) (-105,187) +- (0,46.5) (-100,238.5) +- (0,59) (-95,308.6) +- (0,77)
  (-90,400) +- (0,100)};
\addlegendentry{Myelinated A-type}
\addplot[redc, line width=1.5bp, mark=*, mark size=6.5bp,
  error bars/.cd, y dir=plus, y explicit] coordinates {
  (-130,101) +- (0,17) (-125,114.8) +- (0,20.6) (-120,135.4) +- (0,25.4) (-115,157.4) +- (0,31.6)
  (-110,191.8) +- (0,40) (-105,228.2) +- (0,49.5) (-100,279.7) +- (0,63) (-95,338.1) +- (0,81)
  (-90,422.7) +- (0,55)};
\addlegendentry{Myelinated Ah-type}
\node[font=\fontsize{23}{15}\selectfont, align=center, inner sep=0pt] at (axis cs:-130,158) {$\ast$\\$\ast$};
\node[font=\fontsize{23}{23}\selectfont, inner sep=0pt] at (axis cs:-125,157.5) {$\ast$};
\node[font=\fontsize{23}{23}\selectfont, inner sep=0pt] at (axis cs:-120.1,183.5) {$\ast$};
\end{axis}
\pgfresetboundingbox
\path[use as bounding box] (0bp,0bp) rectangle (703bp,927bp);
\end{tikzpicture}
\end{document}
